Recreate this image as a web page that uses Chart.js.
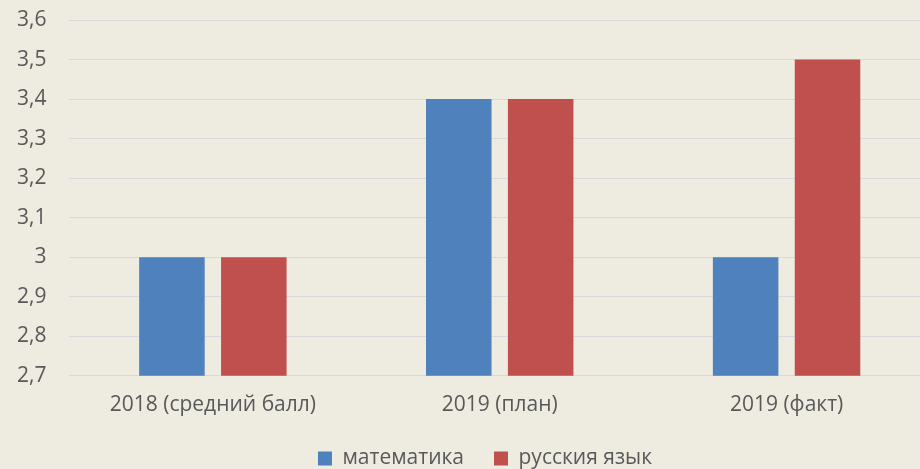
<!DOCTYPE html>
<html>
<head>
<meta charset="utf-8">
<script src="https://cdn.jsdelivr.net/npm/chart.js@4/dist/chart.umd.min.js"></script>
<style>
    html, body { margin: 0; padding: 0; background: #EEEBE0; overflow: hidden; }
    .wrap { width: 920px; height: 469px; overflow: hidden; }
</style>
</head>
<body>
<div class="wrap"><canvas id="chart" width="930" height="479"></canvas></div>
<script>
// Chart data
const categories = ['2018 (средний балл)', '2019 (план)', '2019 (факт)'];
const mathValues = [3.0, 3.4, 3.0];
const russianValues = [3.0, 3.4, 3.5];
const seriesNames = ['математика', 'русския язык'];
const yTicks = [2.7, 2.8, 2.9, 3.0, 3.1, 3.2, 3.3, 3.4, 3.5, 3.6];

const textColor = '#595959';
const gridColor = '#D9D8DB';
const fontFamily = "'Open Sans', sans-serif";

document.addEventListener('DOMContentLoaded', function() {
    initChart();
});

// Nudge the legend so it centres under the plot like the original
const legendShift = {
    id: 'legendShift',
    afterLayout: function(chart) {
        chart.legend.left += 24;
    }
};

function initChart() {
    const ctx = document.getElementById('chart');
    new Chart(ctx, {
        type: 'bar',
        data: {
            labels: categories,
            datasets: [{
                label: seriesNames[0],
                data: mathValues,
                backgroundColor: '#4F81BD',
                barPercentage: 0.8,
                categoryPercentage: 0.571
            }, {
                label: seriesNames[1],
                data: russianValues,
                backgroundColor: '#C0504D',
                barPercentage: 0.8,
                categoryPercentage: 0.571
            }]
        },
        options: {
            responsive: false,
            animation: false,
            layout: {
                padding: { top: 20, left: 16, right: 0, bottom: 0 }
            },
            plugins: {
                legend: {
                    position: 'bottom',
                    labels: {
                        boxWidth: 14,
                        boxHeight: 14,
                        padding: 30,
                        color: textColor,
                        font: { family: fontFamily, size: 21 }
                    }
                },
                tooltip: { enabled: false }
            },
            scales: {
                x: {
                    grid: { display: false, tickLength: 17 },
                    border: { color: gridColor },
                    ticks: {
                        color: textColor,
                        padding: 0,
                        font: { family: fontFamily, size: 21 }
                    },
                    afterFit: function(scale) {
                        // keep long first label from pushing the plot right
                        scale.paddingLeft = 0;
                        scale.paddingRight = 0;
                    }
                },
                y: {
                    min: yTicks[0],
                    max: yTicks[yTicks.length - 1],
                    afterBuildTicks: function(axis) {
                        axis.ticks = yTicks.map(v => ({ value: v }));
                    },
                    afterFit: function(scale) {
                        scale.paddingTop = 0;
                        scale.paddingBottom = 0;
                        scale.width -= 22;
                    },
                    grid: { color: gridColor, drawTicks: false },
                    border: { display: false },
                    ticks: {
                        color: textColor,
                        padding: 23,
                        font: { family: fontFamily, size: 21 },
                        callback: function(value) {
                            return String(Number(value.toFixed(1))).replace('.', ',');
                        }
                    }
                }
            }
        },
        plugins: [legendShift]
    });
}
</script>
</body>
</html>
